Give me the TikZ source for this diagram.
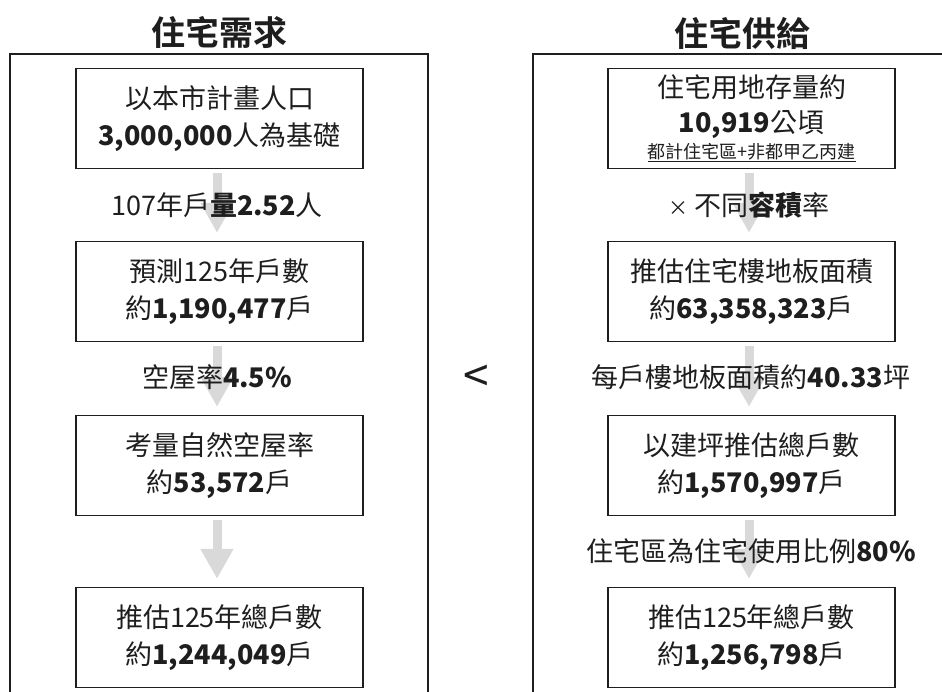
\documentclass[tikz,border=0pt]{standalone}
\usepackage{fontspec}
\setmainfont{Noto Sans CJK TC}
\newfontfamily\titlefont{Noto Sans CJK TC Bold}
\usetikzlibrary{arrows.meta}
\definecolor{arrowgray}{HTML}{D9D9D9}
\definecolor{ink}{HTML}{1E1E1E}
\tikzset{
  frame/.style={line width=2.6pt, draw=ink},
  stepbox/.style={draw=ink, line width=1.2pt, fill=white, minimum width=287pt, minimum height=100pt,
    inner sep=0pt, align=center, text=ink, font=\fontsize{27}{37}\selectfont},
  midlabel/.style={text=ink, inner sep=0pt, font=\fontsize{27}{37}\selectfont},
  title/.style={text=ink, inner sep=0pt, font=\fontsize{34}{40}\selectfont\titlefont},
  flow/.style={draw=arrowgray, line width=9pt, -{Triangle[width=31pt,length=30pt]}, arrowgray}
}
\begin{document}
\begin{tikzpicture}[x=1pt,y=-1pt]
\useasboundingbox (0,0) rectangle (942,692);
% outer frames
\draw[frame] (10,694) -- (10,54) -- (428,54) -- (428,694);
\draw[frame] (533,694) -- (533,54) -- (944,54);
% titles
\node[title] (t1) at (219,33) {住宅需求};
\node[title] (t2) at (742,33) {住宅供給};
% left column
\node[stepbox] (l1) at (219.5,118.5) {以本市計畫人口\\\textbf{3,000,000}人為基礎};
\node[stepbox] (l2) at (219.5,291.5) {預測125年戶數\\約\textbf{1,190,477}戶};
\node[stepbox] (l3) at (219.5,465.5) {考量自然空屋率\\約\textbf{53,572}戶};
\node[stepbox] (l4) at (219.5,637.5) {推估125年總戶數\\約\textbf{1,244,049}戶};
% right column
\node[stepbox] (r1) at (751.5,118.5) {住宅用地存量約\\[-2pt]\textbf{10,919}公頃\\[-11pt]{\fontsize{18}{20}\selectfont\underline{都計住宅區+非都甲乙丙建}}};
\node[stepbox] (r2) at (751.5,291.5) {推估住宅樓地板面積\\約\textbf{63,358,323}戶};
\node[stepbox] (r3) at (751.5,465.5) {以建坪推估總戶數\\約\textbf{1,570,997}戶};
\node[stepbox] (r4) at (751.5,637.5) {推估125年總戶數\\約\textbf{1,256,798}戶};
% arrows
\draw[flow] ([xshift=-2.5pt,yshift=-4pt]l1.south) -- ([xshift=-2.5pt,yshift=8pt]l2.north);
\draw[flow] ([xshift=-2.5pt,yshift=-4pt]l2.south) -- ([xshift=-2.5pt,yshift=8pt]l3.north);
\draw[flow] ([xshift=-2.5pt,yshift=-4pt]l3.south) -- ([xshift=-2.5pt,yshift=8pt]l4.north);
\draw[flow] ([xshift=-2.5pt,yshift=-4pt]r1.south) -- ([xshift=-2.5pt,yshift=8pt]r2.north);
\draw[flow] ([xshift=-2.5pt,yshift=-4pt]r2.south) -- ([xshift=-2.5pt,yshift=8pt]r3.north);
\draw[flow] ([xshift=-2.5pt,yshift=-4pt]r3.south) -- ([xshift=-2.5pt,yshift=8pt]r4.north);
% labels between boxes
\node[midlabel] (m1) at (217,205) {107年戶\textbf{量2.52}人};
\node[midlabel] (m2) at (217,377) {空屋率\textbf{4.5\%}};
\node[midlabel] (m3) at (749,205) {{\fontsize{20}{20}\selectfont ×} 不同\textbf{容積}率};
\node[midlabel] (m4) at (751,377) {每戶樓地板面積約\textbf{40.33}坪};
\node[midlabel] (m5) at (751,551) {住宅區為住宅使用比例\textbf{80\%}};
% comparison sign
\node[text=ink, inner sep=0pt, font=\fontsize{46}{46}\selectfont] (lt) at (476,379) {<};
\end{tikzpicture}
\end{document}
